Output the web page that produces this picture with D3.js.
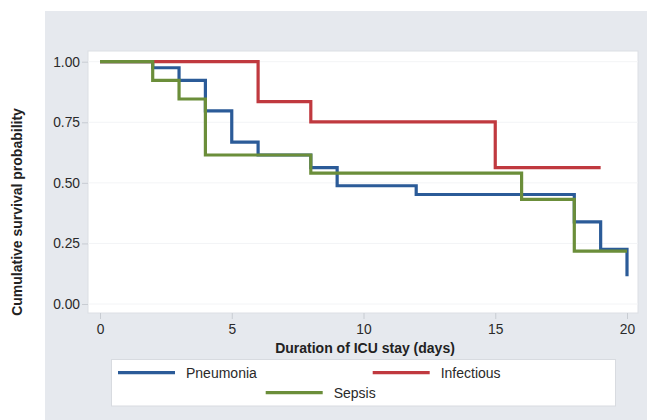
<!DOCTYPE html>
<html><head><meta charset="utf-8">
<script src="https://cdn.jsdelivr.net/npm/d3@7"></script>
<style>body{margin:0;background:#fff;}svg{display:block;font-family:"Liberation Sans",Arial,sans-serif;}</style>
</head><body>
<svg id="c" width="647" height="420"></svg>
<script>
const xTicks = [0, 5, 10, 15, 20];
const yTicks = [0, 0.25, 0.5, 0.75, 1.0];
// step points: [time, survival]
const pneumoniaSteps = [[0,1.0],[2,0.975],[3,0.923],[4,0.797],[5,0.668],[6,0.615],[8,0.563],[9,0.488],[12,0.452],[18,0.339],[19,0.226],[20,0.115]];
const infectiousSteps = [[0,1.0],[6,0.835],[8,0.752],[15,0.563],[19,0.563]];
const sepsisSteps = [[0,1.0],[2,0.923],[3,0.846],[4,0.615],[8,0.540],[16,0.432],[18,0.218],[20,0.218]];
const seriesNames = ["Pneumonia","Infectious","Sepsis"];
const seriesColors = ["#2b5b98","#c0393f","#6b8e3a"];
const seriesData = [pneumoniaSteps, infectiousSteps, sepsisSteps];

const svg = d3.select("#c");
svg.append("rect").attr("x",45).attr("y",11).attr("width",602).attr("height",409).attr("fill","#e6e9ee");
const plot = {l:88, t:51, r:638, b:313};
svg.append("rect").attr("x",plot.l).attr("y",plot.t).attr("width",plot.r-plot.l).attr("height",plot.b-plot.t)
  .attr("fill","#fff").attr("stroke","#dcdfe4").attr("stroke-width",1);

const x = d3.scaleLinear().domain([0,20]).range([100,627]);
const y = d3.scaleLinear().domain([0,1]).range([304,61.7]);

// grid
svg.append("g").selectAll("line").data(yTicks).join("line")
  .attr("x1",plot.l).attr("x2",plot.r).attr("y1",d=>y(d)).attr("y2",d=>y(d))
  .attr("stroke","#f3f4f6").attr("stroke-width",1);

const yAxis = svg.append("g").attr("transform",`translate(${plot.l},0)`)
  .call(d3.axisLeft(y).tickValues(yTicks).tickFormat(d3.format(".2f")).tickSize(6).tickPadding(2));
const xAxis = svg.append("g").attr("transform",`translate(0,${plot.b})`)
  .call(d3.axisBottom(x).tickValues(xTicks).tickSize(6).tickPadding(5));
[yAxis,xAxis].forEach(a=>{
  a.attr("font-size",null).attr("font-family",null);
  a.select(".domain").remove();
  a.selectAll(".tick line").attr("stroke","#c8ccd2");
  a.selectAll(".tick text").attr("fill","#2a2a2a").style("font-size","13.8px");
});

const line = d3.line().x(d=>x(d[0])).y(d=>y(d[1])).curve(d3.curveStepAfter);
seriesData.forEach((s,i)=>{
  svg.append("path").datum(s).attr("d",line).attr("fill","none")
    .attr("stroke",seriesColors[i]).attr("stroke-width",3.2);
});

svg.append("text").attr("x",365).attr("y",352.5).attr("text-anchor","middle")
  .style("font-size","14px").style("font-weight","bold").attr("fill","#222").text("Duration of ICU stay (days)");
svg.append("text").attr("transform","translate(22,212) rotate(-90)").attr("text-anchor","middle")
  .style("font-size","14px").style("font-weight","bold").attr("fill","#222").text("Cumulative survival probability");

// legend
svg.append("rect").attr("x",111.5).attr("y",359.5).attr("width",504).attr("height",46.5)
  .attr("fill","#fff").attr("stroke","#d8dbe0");
const legPos = [[118,372.7],[372.7,372.7],[265.7,392.7]];
seriesNames.forEach((n,i)=>{
  const [lx,ly] = legPos[i];
  svg.append("line").attr("x1",lx).attr("x2",lx+57).attr("y1",ly).attr("y2",ly)
    .attr("stroke",seriesColors[i]).attr("stroke-width",3.2);
  svg.append("text").attr("x",lx+68).attr("y",ly+5).style("font-size","14px").attr("fill","#2a2a2a").text(n);
});
</script>
</body></html>
